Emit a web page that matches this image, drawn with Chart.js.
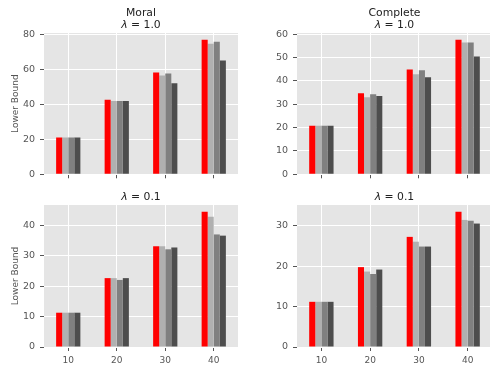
<!DOCTYPE html>
<html>
<head>
<meta charset="utf-8">
<script src="https://cdn.jsdelivr.net/npm/chart.js@4/dist/chart.umd.min.js"></script>
<style>
  html, body { margin: 0; padding: 0; width: 490px; height: 369px; overflow: hidden; background: #ffffff; }
  canvas { position: absolute; }
</style>
</head>
<body>
<canvas id="moralHigh" width="245" height="185" style="left:0px;top:0px"></canvas>
<canvas id="completeHigh" width="247" height="185" style="left:245px;top:0px"></canvas>
<canvas id="moralLow" width="245" height="184" style="left:0px;top:185px"></canvas>
<canvas id="completeLow" width="247" height="184" style="left:245px;top:185px"></canvas>
<script>
// Problem sizes on the x axis
const sizes = ['10', '20', '30', '40'];

// Moral, lambda = 1.0
const moralHighRed   = [21.0, 42.6, 58.3, 77.0];
const moralHighLight = [21.0, 41.9, 56.6, 74.7];
const moralHighMid   = [21.0, 41.9, 57.7, 75.8];
const moralHighDark  = [21.0, 41.9, 52.1, 65.1];

// Complete, lambda = 1.0
const completeHighRed   = [20.8, 34.7, 44.9, 57.6];
const completeHighLight = [20.8, 33.0, 42.8, 56.4];
const completeHighMid   = [20.8, 34.3, 44.5, 56.4];
const completeHighDark  = [20.8, 33.5, 41.5, 50.4];

// Moral, lambda = 0.1
const moralLowRed   = [11.3, 22.7, 33.2, 44.6];
const moralLowLight = [11.3, 22.7, 33.2, 42.9];
const moralLowMid   = [11.3, 22.1, 32.2, 37.1];
const moralLowDark  = [11.3, 22.7, 32.8, 36.7];

// Complete, lambda = 0.1
const completeLowRed   = [11.2, 19.8, 27.3, 33.5];
const completeLowLight = [11.2, 18.7, 26.1, 31.5];
const completeLowMid   = [11.2, 18.1, 24.9, 31.3];
const completeLowDark  = [11.2, 19.2, 24.9, 30.6];

// Y axis tick steps
const highMoralTicks = [0, 20, 40, 60, 80];
const highCompleteTicks = [0, 10, 20, 30, 40, 50, 60];
const lowMoralTicks = [0, 10, 20, 30, 40];
const lowCompleteTicks = [0, 10, 20, 30];

const barColors = ['#ff0000', '#b0b0b0', '#808080', '#4d4d4d'];
const FONT = '"DejaVu Sans", sans-serif';

// Panel background, titles (with italic lambda) and the rotated y label
const panelDecor = {
  id: 'panelDecor',
  beforeDraw(chart, args, opts) {
    const { ctx, chartArea: a } = chart;
    ctx.save();
    ctx.fillStyle = '#e5e5e5';
    ctx.fillRect(a.left, a.top, a.right - a.left, a.bottom - a.top);
    ctx.restore();
  },
  afterDraw(chart, args, opts) {
    const { ctx, chartArea: a } = chart;
    ctx.save();
    ctx.fillStyle = '#222222';
    ctx.textBaseline = 'middle';
    const cx = (a.left + a.right) / 2;
    (opts.lines || []).forEach(line => {
      const parts = line.parts;
      let total = 0;
      parts.forEach(p => {
        ctx.font = (p.italic ? 'italic ' : '') + opts.titleSize + 'px ' + FONT;
        p.w = ctx.measureText(p.text).width;
        total += p.w;
      });
      let x = cx - total / 2;
      ctx.textAlign = 'left';
      parts.forEach(p => {
        ctx.font = (p.italic ? 'italic ' : '') + opts.titleSize + 'px ' + FONT;
        ctx.fillText(p.text, x, line.y);
        x += p.w;
      });
    });
    if (opts.yLabel) {
      ctx.fillStyle = '#555555';
      ctx.font = '9px ' + FONT;
      ctx.textAlign = 'center';
      ctx.translate(opts.yLabelX, (a.top + a.bottom) / 2);
      ctx.rotate(-Math.PI / 2);
      ctx.fillText(opts.yLabel, 0, 0);
    }
    ctx.restore();
  }
};

function makePanel(id, series, cfg) {
  const datasets = series.map((values, i) => ({
    data: values,
    backgroundColor: barColors[i],
    borderWidth: 0,
    categoryPercentage: 0.5,
    barPercentage: 1.0
  }));
  return new Chart(document.getElementById(id), {
    type: 'bar',
    data: { labels: sizes, datasets },
    plugins: [panelDecor],
    options: {
      responsive: false,
      animation: false,
      devicePixelRatio: 1,
      layout: { padding: { top: cfg.padTop, right: cfg.padRight, left: 0, bottom: 0 } },
      plugins: {
        legend: { display: false },
        tooltip: { enabled: false },
        title: { display: false },
        panelDecor: {
          lines: cfg.titleLines,
          titleSize: 10.8,
          yLabel: cfg.yLabel,
          yLabelX: 16
        }
      },
      scales: {
        x: {
          offset: true,
          border: { display: false },
          grid: { offset: false, color: '#ffffff', lineWidth: 1, drawTicks: true, tickLength: 4, tickColor: '#555555', tickWidth: 1 },
          ticks: { display: cfg.showXLabels, color: '#555555', font: { family: FONT, size: 9 }, padding: 4, maxRotation: 0 },
          afterFit(scale) { scale.height = cfg.xHeight; }
        },
        y: {
          min: 0,
          max: cfg.yMax,
          border: { display: false },
          grid: { color: '#ffffff', lineWidth: 1, drawTicks: true, tickLength: 4, tickColor: '#555555', tickWidth: 1 },
          ticks: { color: '#555555', font: { family: FONT, size: 9.5 }, padding: 5, includeBounds: false },
          afterBuildTicks(scale) { scale.ticks = cfg.yTicks.map(v => ({ value: v })); },
          afterFit(scale) { scale.width = cfg.yWidth; }
        }
      }
    }
  });
}

const lam = v => [{ text: 'λ', italic: true }, { text: ' = ' + v, italic: false }];

makePanel('moralHigh', [moralHighRed, moralHighLight, moralHighMid, moralHighDark], {
  yMax: 80.85, yTicks: highMoralTicks, padTop: 33, padRight: 7, yWidth: 44, xHeight: 10,
  showXLabels: false, yLabel: 'Lower Bound',
  titleLines: [{ y: 13.3, parts: [{ text: 'Moral', italic: false }] }, { y: 24.7, parts: lam('1.0') }]
});

makePanel('completeHigh', [completeHighRed, completeHighLight, completeHighMid, completeHighDark], {
  yMax: 60.48, yTicks: highCompleteTicks, padTop: 33, padRight: 0, yWidth: 52, xHeight: 10,
  showXLabels: false, yLabel: null,
  titleLines: [{ y: 13.3, parts: [{ text: 'Complete', italic: false }] }, { y: 24.7, parts: lam('1.0') }]
});

makePanel('moralLow', [moralLowRed, moralLowLight, moralLowMid, moralLowDark], {
  yMax: 46.8, yTicks: lowMoralTicks, padTop: 20, padRight: 7, yWidth: 44, xHeight: 22,
  showXLabels: true, yLabel: 'Lower Bound',
  titleLines: [{ y: 12.3, parts: lam('0.1') }]
});

makePanel('completeLow', [completeLowRed, completeLowLight, completeLowMid, completeLowDark], {
  yMax: 35.2, yTicks: lowCompleteTicks, padTop: 20, padRight: 0, yWidth: 52, xHeight: 22,
  showXLabels: true, yLabel: null,
  titleLines: [{ y: 12.3, parts: lam('0.1') }]
});
</script>
</body>
</html>
